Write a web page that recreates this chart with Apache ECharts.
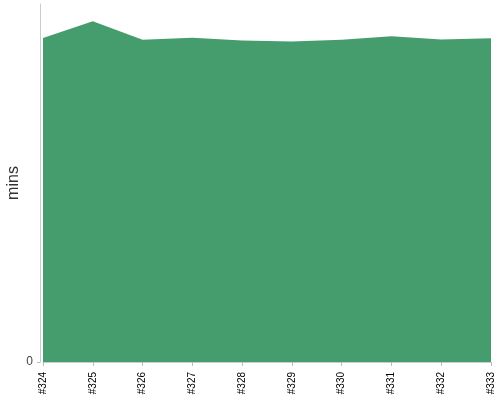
<!DOCTYPE html>
<html>
<head>
    <meta charset="utf-8">
    <title>mins per build</title>
    <script src="https://cdn.jsdelivr.net/npm/echarts@6/dist/echarts.min.js"></script>
    <style>
        html, body { margin: 0; padding: 0; background: #fff; }
        #chart { width: 500px; height: 400px; }
    </style>
</head>
<body>
<div id="chart"></div>
<script>
    // builds along the x axis
    var builds = ['#324', '#325', '#326', '#327', '#328', '#329', '#330', '#331', '#332', '#333'];
    // duration of each build (minutes)
    var minutes = [90.5, 95.2, 90.0, 90.6, 89.8, 89.5, 90.0, 91.0, 90.1, 90.4];
    var yMax = 100;

    var chart = echarts.init(document.getElementById('chart'));
    chart.setOption({
        animation: false,
        textStyle: { fontFamily: 'Liberation Sans' },
        grid: { left: 43, right: 9, top: 4, bottom: 38, outerBoundsMode: 'none' },
        xAxis: {
            type: 'category',
            data: builds,
            boundaryGap: false,
            offset: 4,
            axisLine: { lineStyle: { color: '#ccc' } },
            axisTick: { alignWithLabel: true, length: 4, lineStyle: { color: '#bbb' } },
            axisLabel: { rotate: 90, color: '#000', fontSize: 10, margin: 6 }
        },
        yAxis: {
            type: 'value',
            min: 0,
            max: yMax,
            interval: yMax,
            offset: 3,
            name: 'mins',
            nameLocation: 'middle',
            nameGap: 18,
            nameMoveOverlap: false,
            nameTextStyle: { color: '#333', fontSize: 16 },
            axisLine: { show: true, lineStyle: { color: '#ccc' } },
            axisTick: { show: true, length: 3, lineStyle: { color: '#bbb' } },
            splitLine: { show: false },
            axisLabel: { showMaxLabel: false, color: '#444', fontSize: 12, margin: 7 }
        },
        series: [{
            type: 'line',
            data: minutes,
            symbol: 'none',
            lineStyle: { width: 0 },
            areaStyle: { color: '#459c6c', opacity: 1 }
        }]
    });
</script>
</body>
</html>
